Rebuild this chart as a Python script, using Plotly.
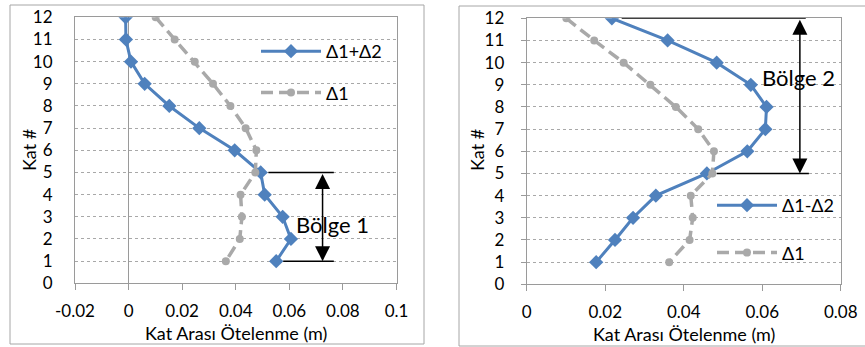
import plotly.graph_objects as go

# ---------------- data ----------------
floors = [12, 11, 10, 9, 8, 7, 6, 5, 4, 3, 2, 1]
d1 = [0.0101, 0.0172, 0.0247, 0.0315, 0.0380, 0.0437, 0.0477, 0.0473, 0.0418, 0.0423, 0.0415, 0.0363]
d1_plus_d2 = [-0.0011, -0.0010, 0.0009, 0.0060, 0.0152, 0.0264, 0.0396, 0.0493, 0.0508, 0.0575, 0.0606, 0.0551]
d1_minus_d2 = [0.0217, 0.0359, 0.0484, 0.0571, 0.0611, 0.0608, 0.0562, 0.0459, 0.0329, 0.0271, 0.0225, 0.0177]

left_xticks = [-0.02, 0, 0.02, 0.04, 0.06, 0.08, 0.1]
left_xlabels = ["-0.02", "0", "0.02", "0.04", "0.06", "0.08", "0.1"]
right_xticks = [0, 0.02, 0.04, 0.06, 0.08]
right_xlabels = ["0", "0.02", "0.04", "0.06", "0.08"]
yticks = list(range(0, 13))

x_title = "Kat Arası Ötelenme (m)"
y_title = "Kat #"

# zone annotations (data coordinates)
zone1_text, zone1_pos = "Bölge 1", (0.076, 2.63)
zone1_arrow_x, zone1_range = 0.0724, (1, 5)
zone1_lines = [(5, 0.0522, 0.0766), (1, 0.0577, 0.0766)]
zone2_text, zone2_pos = "Bölge 2", (0.0692, 9.34)
zone2_arrow_x, zone2_range = 0.0696, (5, 12)
zone2_lines = [(12, 0.0242, 0.0711), (5, 0.0484, 0.0719)]

# ---------------- style ----------------
W, H = 865, 347
FONT = "Lato, 'Open Sans', sans-serif"
BLUE = "#4F81BD"
GRAY = "#A9A9A9"
AX = "#9A9A9A"
GRID = "#A8A8A8"
TXT = "#000000"
FS = 18
TFS = 17
GDASH = "12px,6px"

def px_x(p):
    return p / W

def px_y(p):
    return 1 - p / H

fig = go.Figure()

fig.add_trace(go.Scatter(
    x=d1_plus_d2, y=floors, mode="lines+markers", name="Δ1+Δ2",
    line=dict(color=BLUE, width=3), marker=dict(symbol="diamond", size=11, color=BLUE),
    xaxis="x", yaxis="y", legend="legend", legendgroup="a"))
fig.add_trace(go.Scatter(
    x=d1, y=floors, mode="lines+markers", name="Δ1",
    line=dict(color=GRAY, width=3.5, dash=GDASH), marker=dict(symbol="circle", size=8, color=GRAY),
    xaxis="x", yaxis="y", legend="legend", legendgroup="b"))
fig.add_trace(go.Scatter(
    x=d1_minus_d2, y=floors, mode="lines+markers", name="Δ1-Δ2",
    line=dict(color=BLUE, width=3), marker=dict(symbol="diamond", size=11, color=BLUE),
    xaxis="x2", yaxis="y2", legend="legend2", legendgroup="c"))
fig.add_trace(go.Scatter(
    x=d1, y=floors, mode="lines+markers", name="Δ1",
    line=dict(color=GRAY, width=3.5, dash=GDASH), marker=dict(symbol="circle", size=8, color=GRAY),
    xaxis="x2", yaxis="y2", legend="legend2", legendgroup="d"))

tickfont = dict(family=FONT, size=TFS, color=TXT)

common_x = dict(showgrid=False, showline=True, linecolor=AX, linewidth=1, mirror=True,
                ticks="outside", ticklen=6, tickcolor=AX, tickfont=tickfont, fixedrange=True,
                automargin=False)
common_y = dict(range=[0, 12], tickvals=yticks, showgrid=True, gridcolor=GRID, griddash="dot",
                gridwidth=1, showline=True, linecolor=AX, linewidth=1, mirror=True,
                zeroline=False, tickfont=tickfont, fixedrange=True, automargin=False)

fig.update_layout(
    width=W, height=H, margin=dict(l=0, r=0, t=0, b=0, autoexpand=False),
    paper_bgcolor="white", plot_bgcolor="white",
    font=dict(family=FONT, size=FS, color=TXT),
    xaxis=dict(domain=[px_x(75), px_x(396.5)], anchor="y", range=[-0.02, 0.1],
               tickvals=left_xticks, ticktext=left_xlabels,
               zeroline=True, zerolinecolor=AX, zerolinewidth=1, ticklabelstandoff=6, **common_x),
    yaxis=dict(domain=[px_y(283.3), px_y(17.3)], anchor="x", ticks="", ticklabelstandoff=18, **common_y),
    xaxis2=dict(domain=[px_x(526.7), px_x(840.7)], anchor="y2", range=[0, 0.08],
                tickvals=right_xticks, ticktext=right_xlabels, zeroline=False,
                ticklabelstandoff=6, **common_x),
    yaxis2=dict(domain=[px_y(284.3), px_y(18.3)], anchor="x2", ticks="outside", ticklen=5,
                tickcolor=AX, ticklabelstandoff=13, **common_y),
    legend=dict(x=px_x(256), y=px_y(33), xanchor="left", yanchor="top",
                bgcolor="rgba(0,0,0,0)", font=dict(family=FONT, size=FS, color=TXT),
                tracegroupgap=15, itemwidth=60, traceorder="grouped"),
    legend2=dict(x=px_x(712), y=px_y(187), xanchor="left", yanchor="top",
                 bgcolor="rgba(0,0,0,0)", font=dict(family=FONT, size=FS, color=TXT),
                 tracegroupgap=21, itemwidth=60, traceorder="grouped"),
)

shapes = []
# outer chart borders
shapes.append(dict(type="rect", xref="paper", yref="paper",
                   x0=px_x(10), x1=px_x(424), y0=px_y(344), y1=px_y(5),
                   line=dict(color="#A6A6A6", width=1)))
shapes.append(dict(type="rect", xref="paper", yref="paper",
                   x0=px_x(459), x1=px_x(870), y0=px_y(346), y1=px_y(6),
                   line=dict(color="#A6A6A6", width=1)))
# bracket lines
for (yy, xa, xb) in zone1_lines:
    shapes.append(dict(type="line", xref="x", yref="y", x0=xa, x1=xb, y0=yy, y1=yy,
                       line=dict(color="black", width=1.5)))
for (yy, xa, xb) in zone2_lines:
    shapes.append(dict(type="line", xref="x2", yref="y2", x0=xa, x1=xb, y0=yy, y1=yy,
                       line=dict(color="black", width=1.5)))
fig.update_layout(shapes=shapes)

annotations = []
# axis titles
annotations.append(dict(text=x_title, xref="paper", yref="paper", x=px_x((75 + 396.5) / 2),
                        y=px_y(333), showarrow=False, xanchor="center", yanchor="middle",
                        font=dict(family=FONT, size=FS, color=TXT)))
annotations.append(dict(text=x_title, xref="paper", yref="paper", x=px_x((526.7 + 840.7) / 2),
                        y=px_y(334), showarrow=False, xanchor="center", yanchor="middle",
                        font=dict(family=FONT, size=FS, color=TXT)))
annotations.append(dict(text=y_title, xref="paper", yref="paper", x=px_x(29), y=px_y(150),
                        showarrow=False, textangle=-90, xanchor="center", yanchor="middle",
                        font=dict(family=FONT, size=FS, color=TXT)))
annotations.append(dict(text=y_title, xref="paper", yref="paper", x=px_x(477), y=px_y(150),
                        showarrow=False, textangle=-90, xanchor="center", yanchor="middle",
                        font=dict(family=FONT, size=FS, color=TXT)))
# double arrows
annotations.append(dict(text="", xref="x", yref="y", axref="x", ayref="y",
                        x=zone1_arrow_x, y=zone1_range[0], ax=zone1_arrow_x, ay=zone1_range[1],
                        showarrow=True, arrowhead=2, startarrowhead=2, arrowside="end+start",
                        arrowsize=2, startarrowsize=2, arrowwidth=1.5, arrowcolor="black"))
annotations.append(dict(text="", xref="x2", yref="y2", axref="x2", ayref="y2",
                        x=zone2_arrow_x, y=zone2_range[0], ax=zone2_arrow_x, ay=zone2_range[1],
                        showarrow=True, arrowhead=2, startarrowhead=2, arrowside="end+start",
                        arrowsize=2, startarrowsize=2, arrowwidth=1.5, arrowcolor="black"))
# zone labels
annotations.append(dict(text=zone1_text, xref="x", yref="y", x=zone1_pos[0], y=zone1_pos[1],
                        showarrow=False, font=dict(family=FONT, size=22, color=TXT)))
annotations.append(dict(text=zone2_text, xref="x2", yref="y2", x=zone2_pos[0], y=zone2_pos[1],
                        showarrow=False, font=dict(family=FONT, size=22, color=TXT)))
fig.update_layout(annotations=annotations)

fig.write_html("out.html")
